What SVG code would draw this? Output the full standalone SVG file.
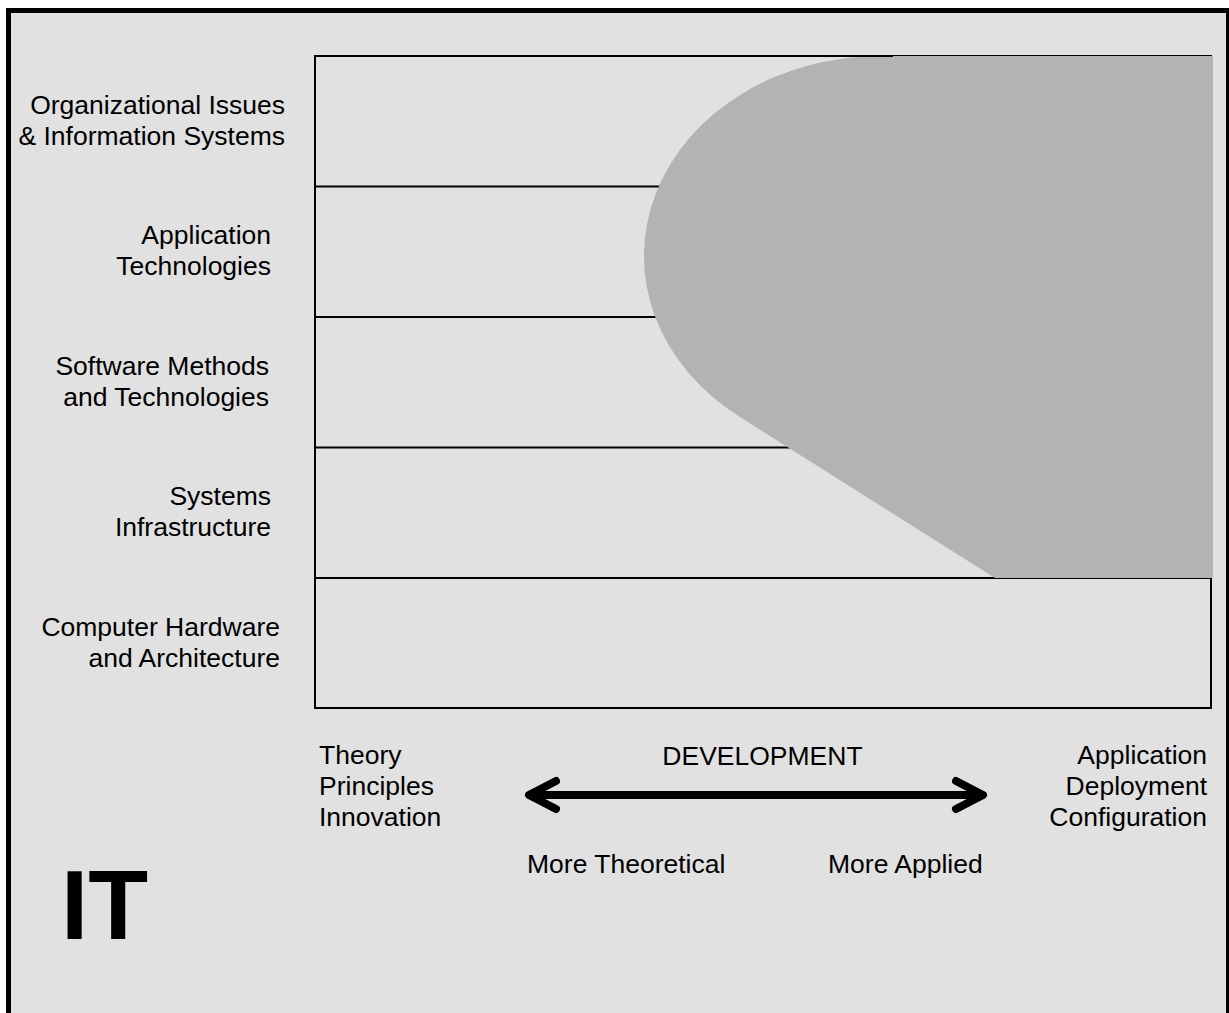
<svg xmlns="http://www.w3.org/2000/svg" width="1229" height="1013" viewBox="0 0 1229 1013">
<style>
text { font-family: "Liberation Sans", Arial, sans-serif; font-size: 26.5px; fill: #000; }
.r { text-anchor: end; }
.m { text-anchor: middle; }
.band { stroke: #000; stroke-width: 2; fill: none; }
.arrow { stroke: #000; stroke-width: 8; fill: none; stroke-linecap: round; stroke-linejoin: round; }
</style>
<rect x="0" y="0" width="1229" height="1013" fill="#ffffff"/>
<rect id="frame" x="8.5" y="10.5" width="1220" height="1020" fill="#e1e1e1" stroke="#000" stroke-width="5"/>

<g id="grid">
  <rect class="band" x="315" y="56" width="896" height="652"/>
  <line class="band" x1="315" y1="186.5" x2="1211" y2="186.5"/>
  <line class="band" x1="315" y1="317" x2="1211" y2="317"/>
  <line class="band" x1="315" y1="447.5" x2="1211" y2="447.5"/>
  <line class="band" x1="315" y1="578" x2="1211" y2="578"/>
</g>

<g id="region">
  <path d="M 880 56 L 1213 56 L 1213 578 L 995 578 L 739.3 416.6 A 236 200 0 0 1 880 56 Z" fill="#b3b3b3"/>
  <line class="band" x1="315" y1="56" x2="893" y2="56"/>
</g>

<g id="label-org">
  <text class="r" x="285" y="113.5">Organizational Issues</text>
  <text class="r" x="285" y="145">&amp; Information Systems</text>
</g>
<g id="label-app">
  <text class="r" x="271" y="244">Application</text>
  <text class="r" x="271" y="275">Technologies</text>
</g>
<g id="label-sw">
  <text class="r" x="269" y="374.5">Software Methods</text>
  <text class="r" x="269" y="405.5">and Technologies</text>
</g>
<g id="label-sys">
  <text class="r" x="271" y="504.5">Systems</text>
  <text class="r" x="271" y="535.5">Infrastructure</text>
</g>
<g id="label-hw">
  <text class="r" x="280" y="635.5">Computer Hardware</text>
  <text class="r" x="280" y="666.5">and Architecture</text>
</g>

<g id="label-theory">
  <text x="319" y="764">Theory</text>
  <text x="319" y="795">Principles</text>
  <text x="319" y="826">Innovation</text>
</g>
<g id="label-applied">
  <text class="r" x="1207" y="764">Application</text>
  <text class="r" x="1207" y="795">Deployment</text>
  <text class="r" x="1207" y="826">Configuration</text>
</g>
<g id="label-development">
  <text class="m" x="762.5" y="765">DEVELOPMENT</text>
</g>
<g id="label-more">
  <text x="527" y="873">More Theoretical</text>
  <text x="828" y="873">More Applied</text>
</g>

<g id="connectors">
  <path class="arrow" d="M 530 795 L 982 795"/>
  <path class="arrow" d="M 556 781 L 529 795 L 556 809"/>
  <path class="arrow" d="M 956 781 L 983 795 L 956 809"/>
</g>

<g id="title">
  <text x="61" y="939" style="font-size:98px;font-weight:bold">IT</text>
</g>
</svg>
